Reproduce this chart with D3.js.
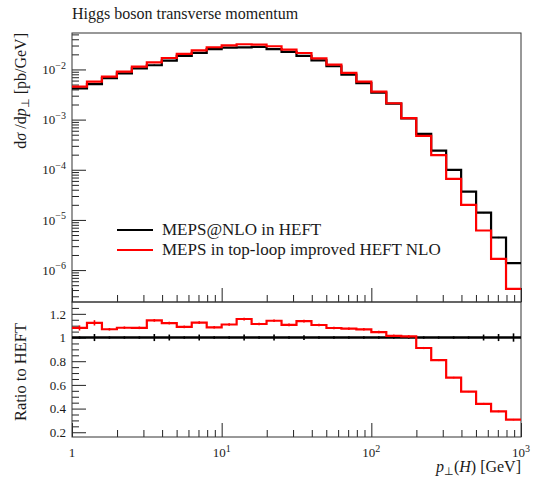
<!DOCTYPE html>
<html><head><meta charset="utf-8">
<script src="https://cdn.jsdelivr.net/npm/d3@7"></script>
<style>
body{margin:0;background:#fff}
svg{display:block}
text{font-family:"Liberation Serif",serif;fill:#1a1a1a}
</style>
</head><body>
<svg id="c" width="533" height="480"></svg>
<script>
// ---- data ----
const binEdges = [1, 1.259, 1.585, 1.995, 2.512, 3.162, 3.981, 5.012, 6.310, 7.943,
  10, 12.59, 15.85, 19.95, 25.12, 31.62, 39.81, 50.12, 63.10, 79.43,
  100, 125.9, 158.5, 199.5, 251.2, 316.2, 398.1, 501.2, 631.0, 794.3, 1000];
const heftNLO = [4.20e-3, 5.08e-3, 6.72e-3, 8.35e-3, 1.051e-2, 1.214e-2, 1.506e-2, 1.872e-2, 2.14e-2, 2.55e-2,
  2.73e-2, 2.75e-2, 2.80e-2, 2.54e-2, 2.24e-2, 1.87e-2, 1.51e-2, 1.157e-2, 7.92e-3, 5.34e-3,
  3.45e-3, 2.09e-3, 1.06e-3, 5.19e-4, 2.41e-4, 9.96e-5, 3.68e-5, 1.40e-5, 4.46e-6, 1.38e-6];
const topLoopNLO = [4.54e-3, 5.71e-3, 7.19e-3, 9.04e-3, 1.137e-2, 1.39e-2, 1.69e-2, 2.04e-2, 2.41e-2, 2.77e-2,
  3.03e-2, 3.18e-2, 3.12e-2, 2.90e-2, 2.48e-2, 2.13e-2, 1.67e-2, 1.25e-2, 8.51e-3, 5.71e-3,
  3.61e-3, 2.12e-3, 1.07e-3, 4.73e-4, 1.95e-4, 6.59e-5, 2.00e-5, 6.15e-6, 1.68e-6, 4.23e-7];
const heftRelErr = [0.01, 0.03, 0.01, 0.01, 0.01, 0.03, 0.025, 0.01, 0.025, 0.01,
  0.01, 0.025, 0.01, 0.025, 0.01, 0.02, 0.01, 0.01, 0.01, 0.01,
  0.01, 0.01, 0.01, 0.01, 0.01, 0.01, 0.01, 0.025, 0.03, 0.035];
const topLoopRelErr = [0.02, 0.02, 0.01, 0.01, 0.01, 0.01, 0.01, 0.01, 0.01, 0.01,
  0.01, 0.01, 0.01, 0.01, 0.01, 0.01, 0.01, 0.01, 0.01, 0.01,
  0.01, 0.01, 0.01, 0.01, 0.01, 0.01, 0.01, 0.02, 0.02, 0.02];
const seriesNames = ["MEPS@NLO in HEFT", "MEPS in top-loop improved HEFT NLO"];
const seriesColors = ["#000000", "#ff0000"];
const xTickValues = [1, 10, 100, 1000];
const xTickExps = ["", "1", "2", "3"];
const yTickValues = [1e-2, 1e-3, 1e-4, 1e-5, 1e-6];
const yTickExps = ["−2", "−3", "−4", "−5", "−6"];
const ratioTickValues = [0.2, 0.4, 0.6, 0.8, 1, 1.2];
const ratioTickLabels = ["0.2", "0.4", "0.6", "0.8", "1", "1.2"];
const titleText = "Higgs boson transverse momentum";

// ---- layout ----
const L = 72, R = 521, T = 33, MB = 302, RB = 437;
const svg = d3.select("#c");
const x = d3.scaleLog().domain([1, 1000]).range([L, R]);
const y = d3.scaleLog().domain([2.31e-7, 5.33e-2]).range([MB, T]);
const yr = d3.scaleLinear().domain([0.16, 1.30]).range([RB, MB]);

const xMinor = [];
[1, 10, 100].forEach(d => { for (let m = 2; m <= 9; m++) xMinor.push(d * m); });
const yMinor = [];
[1e-7, 1e-6, 1e-5, 1e-4, 1e-3, 1e-2].forEach(d => { for (let m = 2; m <= 9; m++) { const v = d * m; if (v > 2.31e-7 && v < 5.33e-2) yMinor.push(v); } });
const rMinor = [0.25, 0.3, 0.35, 0.45, 0.5, 0.55, 0.65, 0.7, 0.75, 0.85, 0.9, 0.95, 1.05, 1.1, 1.15, 1.25];

function tickAxis(axis, g) { g.call(axis); g.select(".domain").remove(); g.selectAll("line").attr("stroke", "#222").attr("stroke-width", 1); }

// main panel x ticks (bottom, inward)
tickAxis(d3.axisBottom(x).tickValues(xTickValues).tickSize(-14).tickFormat(""), svg.append("g").attr("transform", `translate(0,${MB})`));
tickAxis(d3.axisBottom(x).tickValues(xMinor).tickSize(-7).tickFormat(""), svg.append("g").attr("transform", `translate(0,${MB})`));
// ratio x ticks
tickAxis(d3.axisBottom(x).tickValues(xTickValues).tickSize(-14).tickFormat(""), svg.append("g").attr("transform", `translate(0,${RB})`));
tickAxis(d3.axisBottom(x).tickValues(xMinor).tickSize(-7).tickFormat(""), svg.append("g").attr("transform", `translate(0,${RB})`));
// main y ticks
const gy = svg.append("g").attr("transform", `translate(${L},0)`);
tickAxis(d3.axisLeft(y).tickValues(yTickValues).tickSize(-14).tickPadding(6).tickFormat(""), gy);
tickAxis(d3.axisLeft(y).tickValues(yMinor).tickSize(-7).tickFormat(""), svg.append("g").attr("transform", `translate(${L},0)`));
gy.selectAll(".tick text").each(function(d, i) {
  const t = d3.select(this).attr("font-size", 13).attr("fill", "#1a1a1a").attr("font-family", '"Liberation Serif",serif').attr("dy", "0.32em");
  t.append("tspan").text("10");
  t.append("tspan").attr("font-size", 10).attr("dy", "-0.55em").text(yTickExps[i]);
});
// ratio y ticks
const gr = svg.append("g").attr("transform", `translate(${L},0)`);
tickAxis(d3.axisLeft(yr).tickValues(ratioTickValues).tickSize(-14).tickPadding(6).tickFormat((d, i) => ratioTickLabels[i]), gr);
gr.selectAll(".tick text").attr("font-size", 13).attr("fill", "#1a1a1a").attr("font-family", '"Liberation Serif",serif');
tickAxis(d3.axisLeft(yr).tickValues(rMinor).tickSize(-7).tickFormat(""), svg.append("g").attr("transform", `translate(${L},0)`));

// x tick labels under ratio panel
const gxl = svg.append("g");
xTickValues.forEach((v, i) => {
  const t = gxl.append("text").attr("x", x(v)).attr("y", 457).attr("text-anchor", "middle").attr("font-size", 13);
  t.append("tspan").text(i === 0 ? "1" : "10");
  if (xTickExps[i]) t.append("tspan").attr("font-size", 10).attr("dy", "-0.55em").text(xTickExps[i]);
});

// frames
svg.append("rect").attr("x", L).attr("y", T).attr("width", R - L).attr("height", MB - T).attr("fill", "none").attr("stroke", "#333").attr("stroke-width", 1);
svg.append("rect").attr("x", L).attr("y", MB).attr("width", R - L).attr("height", RB - MB).attr("fill", "none").attr("stroke", "#333").attr("stroke-width", 1);

// histograms
function stepPts(vals) { return binEdges.map((e, i) => [e, vals[Math.min(i, vals.length - 1)]]); }
const lineMain = d3.line().x(d => x(d[0])).y(d => y(d[1])).curve(d3.curveStepAfter);
const lineRatio = d3.line().x(d => x(d[0])).y(d => yr(d[1])).curve(d3.curveStepAfter);
const centers = binEdges.slice(0, -1).map((e, i) => Math.sqrt(e * binEdges[i + 1]));

const mainSeries = [heftNLO, topLoopNLO];
const errSeries = [heftRelErr, topLoopRelErr];
mainSeries.forEach((vals, s) => {
  svg.append("path").attr("d", lineMain(stepPts(vals))).attr("fill", "none").attr("stroke", seriesColors[s]).attr("stroke-width", 2.2).attr("stroke-linejoin", "miter");
  svg.append("g").selectAll("line").data(vals).join("line")
    .attr("x1", (d, i) => x(centers[i])).attr("x2", (d, i) => x(centers[i]))
    .attr("y1", (d, i) => y(d * (1 - errSeries[s][i]))).attr("y2", (d, i) => y(d * (1 + errSeries[s][i])))
    .attr("stroke", seriesColors[s]).attr("stroke-width", 1.6);
});
// ratio
mainSeries.map((vals) => vals.map((v, i) => v / heftNLO[i])).forEach((rv, s) => {
  svg.append("path").attr("d", lineRatio(stepPts(rv))).attr("fill", "none").attr("stroke", seriesColors[s]).attr("stroke-width", s === 0 ? 2.6 : 2.2);
  svg.append("g").selectAll("line").data(rv).join("line")
    .attr("x1", (d, i) => x(centers[i])).attr("x2", (d, i) => x(centers[i]))
    .attr("y1", (d, i) => yr(d * (1 - errSeries[s][i]))).attr("y2", (d, i) => yr(d * (1 + errSeries[s][i])))
    .attr("stroke", seriesColors[s]).attr("stroke-width", 1.6);
});

// legend
seriesNames.forEach((n, i) => {
  const yy = 230 + i * 20;
  svg.append("line").attr("x1", 117).attr("x2", 153).attr("y1", yy).attr("y2", yy).attr("stroke", seriesColors[i]).attr("stroke-width", 2.2);
  svg.append("text").attr("x", 162).attr("y", yy + 5).attr("font-size", 17).text(n);
});

// title
svg.append("text").attr("x", L).attr("y", 19).attr("font-size", 16).text(titleText);

// y label main
const yl = svg.append("text").attr("transform", `translate(26,${T}) rotate(-90)`).attr("text-anchor", "end").attr("font-size", 16);
yl.append("tspan").text("d");
yl.append("tspan").attr("font-style", "italic").text("σ");
yl.append("tspan").text(" /d");
yl.append("tspan").attr("font-style", "italic").text("p");
yl.append("tspan").attr("font-size", 11).attr("dy", 3).text("⊥");
yl.append("tspan").attr("dy", -3).text(" [pb/GeV]");

// ratio label
svg.append("text").attr("transform", `translate(26,372) rotate(-90)`).attr("text-anchor", "middle").attr("font-size", 16.5).text("Ratio to HEFT");

// x label
const xl = svg.append("text").attr("x", R).attr("y", 472).attr("text-anchor", "end").attr("font-size", 16);
xl.append("tspan").attr("font-style", "italic").text("p");
xl.append("tspan").attr("font-size", 11).attr("dy", 3).text("⊥");
xl.append("tspan").attr("dy", -3).text("(");
xl.append("tspan").attr("font-style", "italic").text("H");
xl.append("tspan").text(") [GeV]");
</script>
</body></html>
